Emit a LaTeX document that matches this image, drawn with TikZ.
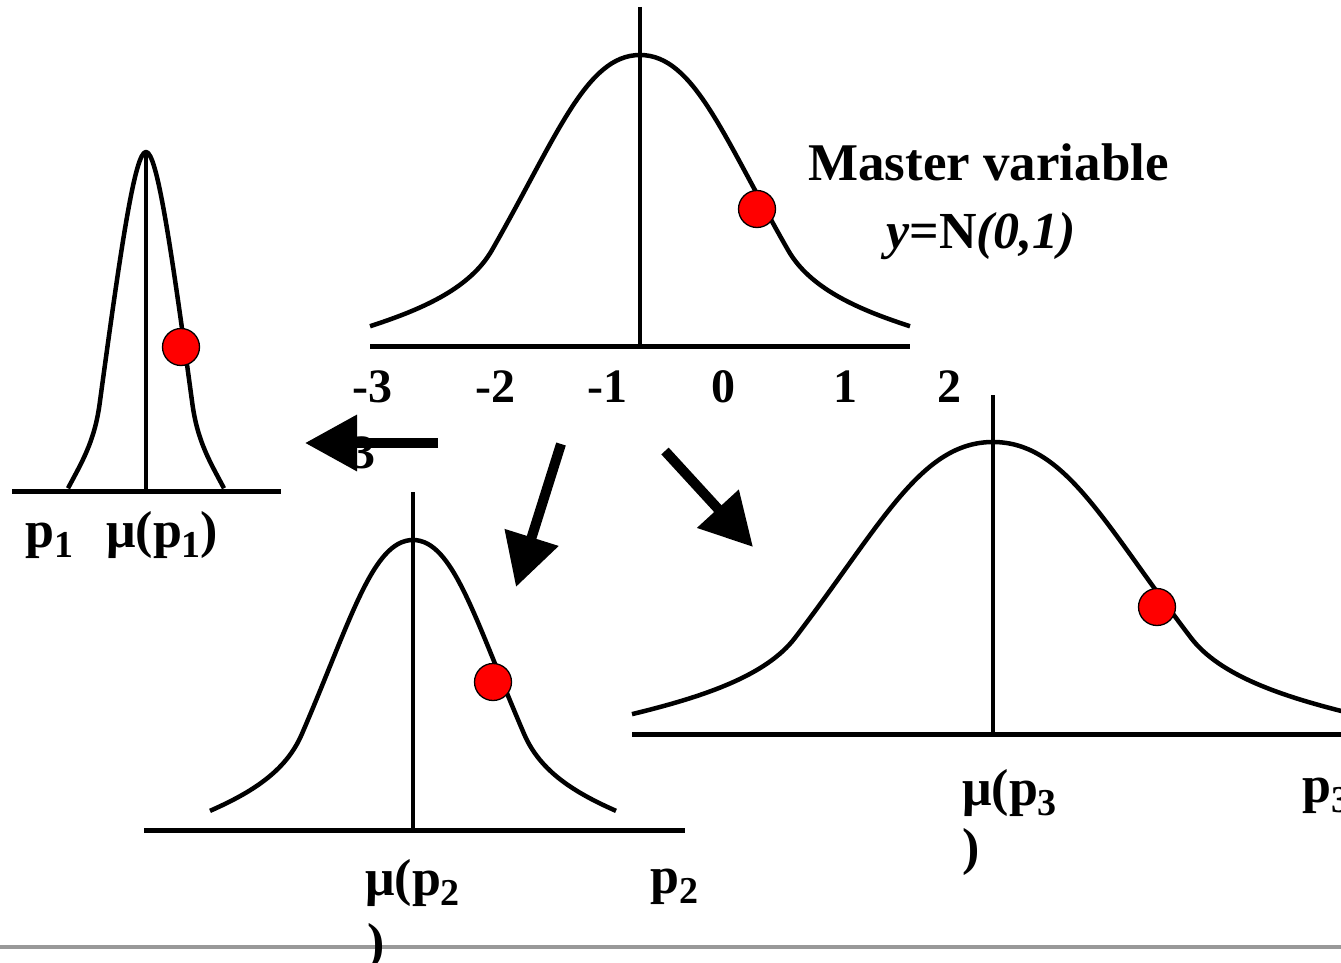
\documentclass[tikz,border=0pt]{standalone}
\usepackage{fontspec}
\setmainfont{Liberation Serif}
\usetikzlibrary{arrows.meta}
\newcommand{\mysb}[1]{\raisebox{-0.2em}{\fontsize{38}{38}\selectfont #1}}
\tikzset{
  curve/.style={line width=4.5pt, line join=round},
  axisline/.style={line width=5pt},
  midline/.style={line width=4pt},
  dot/.style={circle, fill=red, draw=black, line width=1.3pt, minimum size=37pt, inner sep=0pt},
  lbl/.style={inner sep=0pt, anchor=base west, font=\fontsize{52}{62}\selectfont\bfseries},
  title/.style={inner sep=0pt, anchor=base west, font=\fontsize{53}{62}\selectfont\bfseries},
  num/.style={inner sep=0pt, anchor=base west, font=\fontsize{48}{58}\selectfont\bfseries},
  bigarrow/.style={line width=10pt, -{Triangle[length=52pt,width=54pt]}},
  rule/.style={line width=4.5pt, black!40},
}
\begin{document}
\begin{tikzpicture}[x=1pt,y=-1pt]
\clip (0,0) rectangle (1341,963);
\fill[white] (0,0) rectangle (1341,963);

% bottom gray rule
\coordinate (g1) at (0,947);
\coordinate (g2) at (1341,947);
\draw[rule] (g1) -- (g2);

% ---- master curve ----
\draw[axisline] (370,346) -- (910,346);
\draw[midline] (640,7) -- (640,346);
\begin{scope}[shift={(370,346)}, xscale=540, yscale=-291]
\draw[curve] (0,0.068) .. controls (0.1,0.128) and (0.186,0.2) .. (0.226,0.33)
  .. controls (0.346,0.719) and (0.4,1) .. (0.5,1)
  .. controls (0.6,1) and (0.654,0.719) .. (0.774,0.33)
  .. controls (0.814,0.2) and (0.9,0.128) .. (1,0.068);
\end{scope}
\node[dot] (d0) at (757,209) {};

% ---- small left curve ----
\draw[axisline] (12,491) -- (281,491);
\draw[midline] (146,152) -- (146,491);
\begin{scope}[shift={(68,491)}, xscale=156, yscale=-339]
\draw[curve] (0,0.008) .. controls (0.09,0.086) and (0.17,0.146) .. (0.203,0.258)
  .. controls (0.343,0.733) and (0.43,1) .. (0.5,1)
  .. controls (0.57,1) and (0.657,0.733) .. (0.797,0.258)
  .. controls (0.83,0.146) and (0.91,0.086) .. (1,0.008);
\end{scope}
\node[dot] (d1) at (181,347) {};

% ---- middle bottom curve ----
\draw[axisline] (144,830) -- (685,830);
\draw[midline] (413,492) -- (413,830);
\begin{scope}[shift={(210,830)}, xscale=406, yscale=-290]
\draw[curve] (0,0.066) .. controls (0.1,0.128) and (0.186,0.2) .. (0.226,0.33)
  .. controls (0.346,0.719) and (0.4,1) .. (0.5,1)
  .. controls (0.6,1) and (0.654,0.719) .. (0.774,0.33)
  .. controls (0.814,0.2) and (0.9,0.128) .. (1,0.066);
\end{scope}
\node[dot] (d2) at (493,682) {};

% ---- right curve ----
\draw[axisline] (632,734) -- (1341,734);
\draw[midline] (993,395) -- (993,734);
\begin{scope}[shift={(632,734)}, xscale=722, yscale=-292]
\draw[curve] (0,0.068) .. controls (0.1,0.128) and (0.186,0.2) .. (0.226,0.33)
  .. controls (0.346,0.719) and (0.4,1) .. (0.5,1)
  .. controls (0.6,1) and (0.654,0.719) .. (0.774,0.33)
  .. controls (0.814,0.2) and (0.9,0.128) .. (1,0.068);
\end{scope}
\node[dot] (d3) at (1157,607) {};

% ---- texts ----
\node[title] (mv) at (808,180) {Master variable};
\node[lbl] (eq) at (886,248) {\textit{y}=N\textit{(0,1)}};

\node[num] (n1) at (352,402) {-3};
\node[num] (n2) at (475,402) {-2};
\node[num] (n3) at (587,402) {-1};
\node[num] (n4) at (711,402) {0};
\node[num] (n5) at (833,402) {1};
\node[num] (n6) at (937,402) {2};
\node[num] (n7) at (351,468) {3};

\node[lbl] (p1) at (25,547) {p\mysb{1}};
\node[lbl] (mu1) at (106,547) {μ(p\mysb{1})};
\node[lbl] (mu2) at (365,895) {μ(p\mysb{2}};
\node[lbl] (mu2b) at (367,959) {)};
\node[lbl] (p2) at (650,893) {p\mysb{2}};
\node[lbl] (mu3) at (962,805) {μ(p\mysb{3}};
\node[lbl] (mu3b) at (962,864) {)};
\node[lbl] (p3) at (1302,802) {p\mysb{3}};

% ---- arrows ----
\coordinate (a1s) at (438,443);
\coordinate (a1e) at (305,443);
\coordinate (a2s) at (561,444);
\coordinate (a2e) at (516,587);
\coordinate (a3s) at (665,451);
\coordinate (a3e) at (753,547);
\draw[bigarrow] (a1s) -- (a1e);
\draw[bigarrow] (a2s) -- (a2e);
\draw[bigarrow] (a3s) -- (a3e);
\end{tikzpicture}
\end{document}
